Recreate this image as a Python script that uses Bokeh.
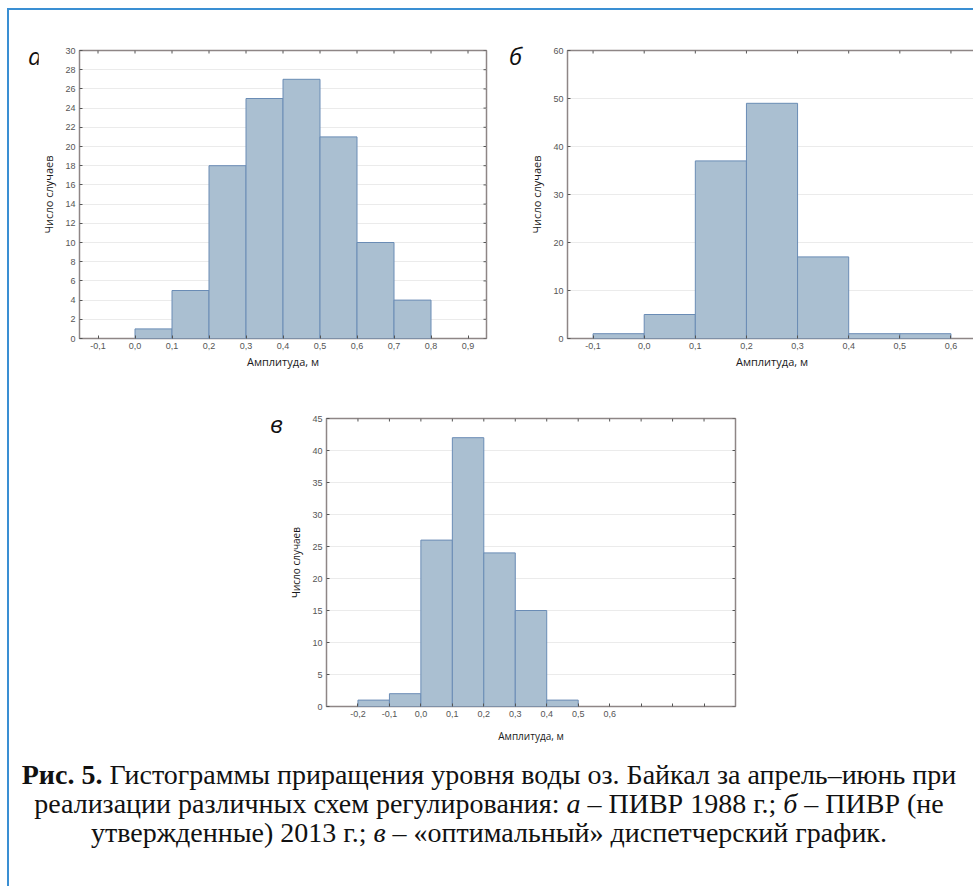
from bokeh.plotting import figure
from bokeh.models import FixedTicker, Div, Range1d
from bokeh.layouts import row, column
from bokeh.embed import file_html
from bokeh.resources import INLINE

# ---------------- data ----------------
edges_a = [0.0, 0.1, 0.2, 0.3, 0.4, 0.5, 0.6, 0.7, 0.8]
counts_a = [1, 5, 18, 25, 27, 21, 10, 4]
xticks_a = [-0.1, 0.0, 0.1, 0.2, 0.3, 0.4, 0.5, 0.6, 0.7, 0.8, 0.9]
xlabels_a = ["-0,1", "0,0", "0,1", "0,2", "0,3", "0,4", "0,5", "0,6", "0,7", "0,8", "0,9"]
yticks_a = [0, 2, 4, 6, 8, 10, 12, 14, 16, 18, 20, 22, 24, 26, 28, 30]

edges_b = [-0.1, 0.0, 0.1, 0.2, 0.3, 0.4, 0.5, 0.6]
counts_b = [1, 5, 37, 49, 17, 1, 1]
xticks_b = [-0.1, 0.0, 0.1, 0.2, 0.3, 0.4, 0.5, 0.6]
xlabels_b = ["-0,1", "0,0", "0,1", "0,2", "0,3", "0,4", "0,5", "0,6"]
yticks_b = [0, 10, 20, 30, 40, 50, 60]

edges_c = [-0.2, -0.1, 0.0, 0.1, 0.2, 0.3, 0.4, 0.5]
counts_c = [1, 2, 26, 42, 24, 15, 1]
xticks_c = [-0.2, -0.1, 0.0, 0.1, 0.2, 0.3, 0.4, 0.5, 0.6, 0.7, 0.8, 0.9]
xlabels_c = ["-0,2", "-0,1", "0,0", "0,1", "0,2", "0,3", "0,4", "0,5", "0,6", "", "", ""]
yticks_c = [0, 5, 10, 15, 20, 25, 30, 35, 40, 45]

panel_letters = ["а", "б", "в"]
y_title = "Число случаев"
x_title = "Амплитуда, м"

caption_lines = [
    "<b>Рис. 5.</b> Гистограммы приращения уровня воды оз. Байкал за апрель–июнь при",
    "реализации различных схем регулирования: <i>а</i> – ПИВР 1988 г.; <i>б</i> – ПИВР (не",
    "утвержденные) 2013 г.; <i>в</i> – «оптимальный» диспетчерский график.",
]

BAR_FILL = "#aabfd1"
BAR_LINE = "#6a8cb5"
FRAME = "#8e8686"
TICK_COL = "#555555"
BLUE = "#3a8fd3"


def make_panel(edges, counts, xr, yr, xticks, xlabels, yticks,
               fw, fh, mbl, mbr, mbt, mbb, title_size, title_standoff_x):
    p = figure(frame_width=fw, frame_height=fh, x_range=Range1d(*xr), y_range=Range1d(*yr),
               output_backend="svg", toolbar_location=None,
               min_border_left=mbl, min_border_right=mbr,
               min_border_top=mbt, min_border_bottom=mbb,
               background_fill_color="white", border_fill_color="white")
    p.quad(left=edges[:-1], right=edges[1:], bottom=0, top=counts,
           fill_color=BAR_FILL, line_color=BAR_LINE, line_width=1)
    p.outline_line_color = FRAME
    p.outline_line_width = 1.5
    p.xgrid.visible = False
    p.ygrid.grid_line_color = "#ebebeb"
    p.ygrid.grid_line_width = 1
    p.ygrid.ticker = FixedTicker(ticks=yticks)

    # inside tick marks on the top and right edges of the frame
    ylen = (yr[1] - yr[0]) * 3.0 / fh
    xlen = (xr[1] - xr[0]) * 3.0 / fw
    p.segment(x0=xticks, y0=[yr[1]] * len(xticks), x1=xticks, y1=[yr[1] - ylen] * len(xticks),
              line_color=TICK_COL, line_width=1)
    p.segment(x0=[xr[1]] * len(yticks), y0=yticks, x1=[xr[1] - xlen] * len(yticks), y1=yticks,
              line_color=TICK_COL, line_width=1)

    xa = p.xaxis[0]
    xa.ticker = FixedTicker(ticks=xticks)
    xa.major_label_overrides = {t: l for t, l in zip(xticks, xlabels)}
    ya = p.yaxis[0]
    ya.ticker = FixedTicker(ticks=yticks)
    for ax in (xa, ya):
        ax.axis_line_color = None
        ax.major_tick_in = 3
        ax.major_tick_out = 0
        ax.major_tick_line_color = TICK_COL
        ax.minor_tick_line_color = None
        ax.major_label_text_font = "Liberation Sans"
        ax.major_label_text_font_size = "9px"
        ax.major_label_text_color = TICK_COL
        ax.major_label_standoff = 4
        ax.axis_label_text_font = "Open Sans"
        ax.axis_label_text_font_style = "normal"
        ax.axis_label_text_font_size = title_size
        ax.axis_label_text_color = "#1a1a1a"
    xa.axis_label = x_title
    xa.axis_label_standoff = title_standoff_x
    ya.axis_label = y_title
    ya.axis_label_standoff = 6
    return p


def letter_div(letter, width, height, left):
    html = ('<div style="margin:0;padding-top:34px;padding-left:%dpx;'
            'font-family:\'Open Sans\';font-style:italic;font-size:24px;line-height:24px;'
            'color:#111;">%s</div>' % (left, letter))
    return Div(text=html, width=width, height=height, margin=0)


pa = make_panel(edges_a, counts_a, (-0.15, 0.95), (0, 30), xticks_a, xlabels_a, yticks_a,
                407, 288, 40, 5, 40, 40, "11px", 2)
pb = make_panel(edges_b, counts_b, (-0.15, 0.65), (0, 60), xticks_b, xlabels_b, yticks_b,
                409, 288, 33, 2, 40, 40, "11px", 2)
pc = make_panel(edges_c, counts_c, (-0.3, 1.0), (0, 45), xticks_c, xlabels_c, yticks_c,
                409, 288, 33, 5, 40, 45, "10px", 9)

da = letter_div(panel_letters[0], 29, 368, 19)
db = letter_div(panel_letters[1], 35, 368, 18)
dc = letter_div(panel_letters[2], 277, 373, 261)

cap_html = ('<div style="width:960px;text-align:center;font-family:\'Liberation Serif\';'
            'font-size:28px;line-height:29px;color:#111;padding-top:9px;white-space:nowrap;">'
            + "<br>".join(caption_lines) + "</div>")
cap = Div(text=cap_html, width=963, height=135, margin=0)

r1 = row(da, pa, db, pb, spacing=0)
r2 = row(dc, pc, spacing=0)
lay = column(r1, r2, cap, spacing=0, margin=(8, 0, 0, 7),
             styles={"border-left": "2px solid " + BLUE, "border-top": "2px solid " + BLUE})

open("out.html", "w").write(file_html(lay, INLINE))
